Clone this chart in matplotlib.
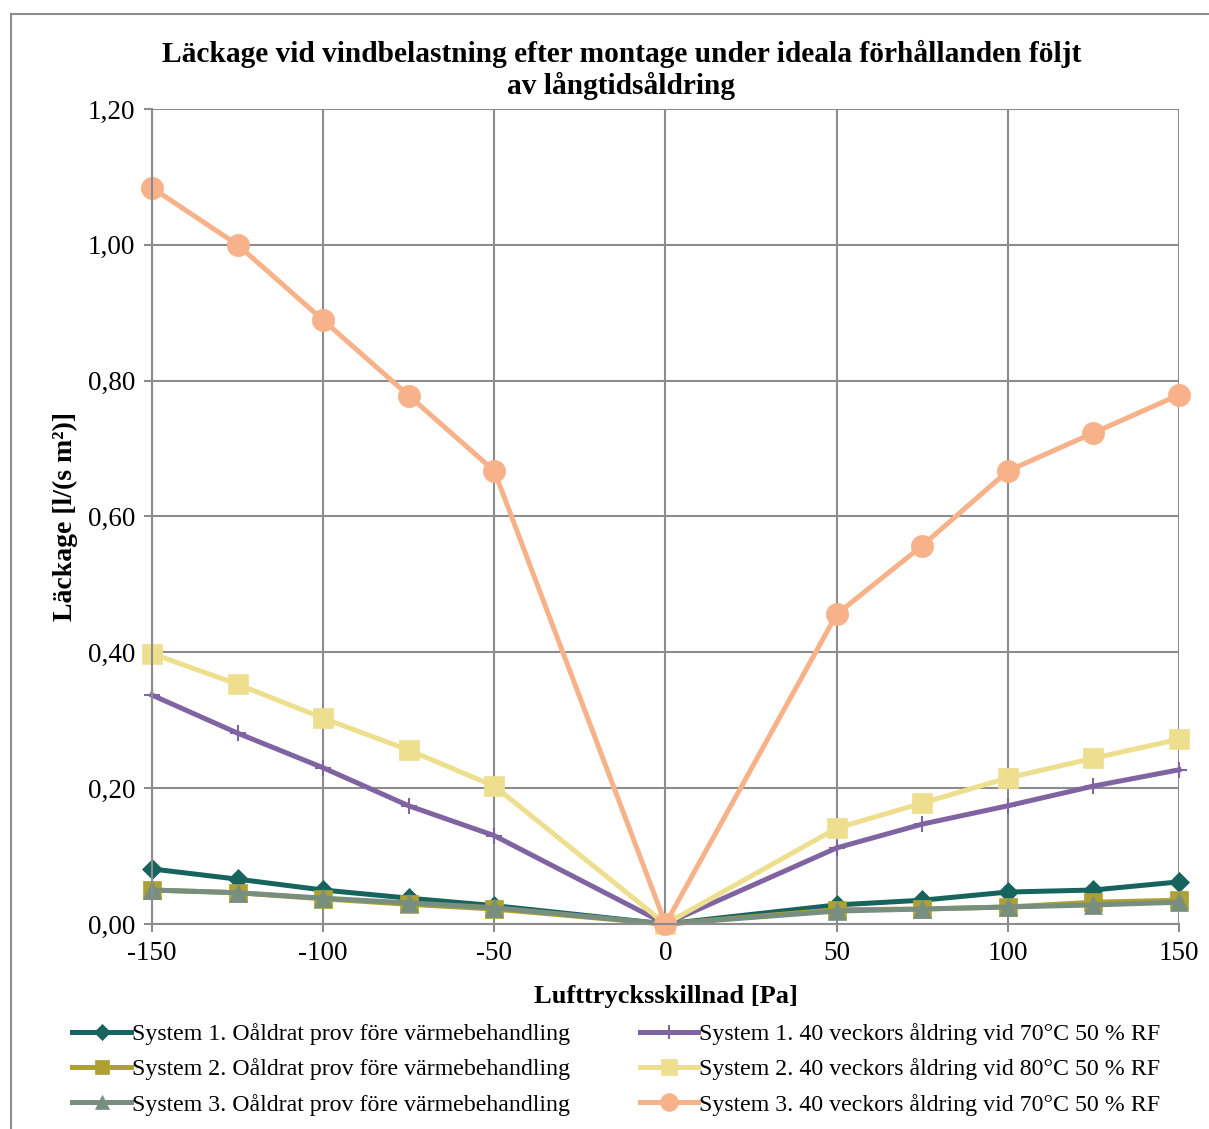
import matplotlib
matplotlib.use("Agg")
import matplotlib.pyplot as plt
from matplotlib.lines import Line2D
from matplotlib.ticker import FuncFormatter, MultipleLocator

plt.rcParams['font.family'] = ['Liberation Serif', 'DejaVu Serif']

pressure = [-150, -125, -100, -75, -50, 0, 50, 75, 100, 125, 150]

s1_unaged = [0.081, 0.066, 0.050, 0.038, 0.027, 0.0, 0.028, 0.035, 0.047, 0.050, 0.062]
s2_unaged = [0.050, 0.046, 0.037, 0.029, 0.022, 0.0, 0.021, 0.022, 0.025, 0.032, 0.035]
s3_unaged = [0.050, 0.046, 0.038, 0.031, 0.024, 0.0, 0.019, 0.022, 0.025, 0.028, 0.032]
s1_aged = [0.337, 0.281, 0.230, 0.174, 0.130, 0.0, 0.112, 0.147, 0.174, 0.203, 0.227]
s2_aged = [0.398, 0.353, 0.303, 0.256, 0.203, 0.0, 0.141, 0.178, 0.215, 0.244, 0.272]
s3_aged = [1.084, 1.000, 0.889, 0.778, 0.667, 0.0, 0.456, 0.557, 0.667, 0.723, 0.779]

labels = [
    "System 1. Oåldrat prov före värmebehandling",
    "System 2. Oåldrat prov före värmebehandling",
    "System 3. Oåldrat prov före värmebehandling",
    "System 1. 40 veckors åldring vid 70°C 50 % RF",
    "System 2. 40 veckors åldring vid 80°C 50 % RF",
    "System 3. 40 veckors åldring vid 70°C 50 % RF",
]

series = [s1_unaged, s2_unaged, s3_unaged, s1_aged, s2_aged, s3_aged]
colors = ['#17645E', '#ADA035', '#788F80', '#8064A2', '#EEDF8F', '#F7B28A']
markers = ['D', 's', '^', '+', 's', 'o']
msizes = [10, 13, 13, 12, 14, 16]

fig = plt.figure(figsize=(12.09, 11.29), dpi=100)
ax = fig.add_axes([0.1257, 0.1816, 0.8495, 0.7219])

for ys, c, m, ms, lab in zip(series, colors, markers, msizes, labels):
    ax.plot(pressure, ys, color=c, lw=3.6, marker=m, markersize=ms,
            markeredgewidth=1.5 if m == '+' else 0.5, markeredgecolor=c,
            label=lab, solid_joinstyle='round', clip_on=False)

ax.set_xlim(-150, 150)
ax.set_ylim(0, 1.2)
ax.xaxis.set_major_locator(MultipleLocator(50))
ax.yaxis.set_major_locator(MultipleLocator(0.2))
ax.xaxis.set_major_formatter(FuncFormatter(lambda v, p: f"{int(v)}".replace('\u2212', '-')))
ax.yaxis.set_major_formatter(FuncFormatter(lambda v, p: f"{v:.2f}".replace('.', ',')))
ax.grid(True, color='#8c8c8c', lw=1.5)
ax.set_axisbelow(True)
for s in ['top', 'right']:
    ax.spines[s].set_visible(False)
for s in ['left', 'bottom']:
    ax.spines[s].set_color('#8c8c8c')
    ax.spines[s].set_linewidth(1.5)
ax.tick_params(axis='both', direction='out', length=6, width=1.5, color='#8c8c8c',
               labelsize=19.5, pad=6)

ax.set_xlabel("Lufttrycksskillnad [Pa]", fontsize=19, fontweight='bold', labelpad=14)
ax.set_ylabel("Läckage [l/(s m²)]", fontsize=20, fontweight='bold', labelpad=7)
fig.text(0.514, 0.938, "Läckage vid vindbelastning efter montage under ideala förhållanden följt\nav långtidsåldring",
         ha='center', va='center', fontsize=21.2, fontweight='bold', linespacing=1.2)

handles = [Line2D([], [], color=c, lw=3.6, marker=m, markersize=ms * 0.8,
                  markeredgewidth=1.5 if m == '+' else 0.5, markeredgecolor=c)
           for c, m, ms in zip(colors, markers, msizes)]
fig.legend(handles, labels, loc='upper left', bbox_to_anchor=(0.052, 0.102), ncol=2,
           frameon=False, fontsize=17.2, handlelength=2.45, handletextpad=0.05,
           columnspacing=2.9, labelspacing=0.55, borderaxespad=0)

# chart area border
fig.add_artist(Line2D([11 / 1209, 11 / 1209], [0, 1 - 14 / 1129], color='#8c8c8c', lw=1.5))
fig.add_artist(Line2D([11 / 1209, 1], [1 - 14 / 1129, 1 - 14 / 1129], color='#8c8c8c', lw=1.5))

fig.savefig("out.png", dpi=100)
